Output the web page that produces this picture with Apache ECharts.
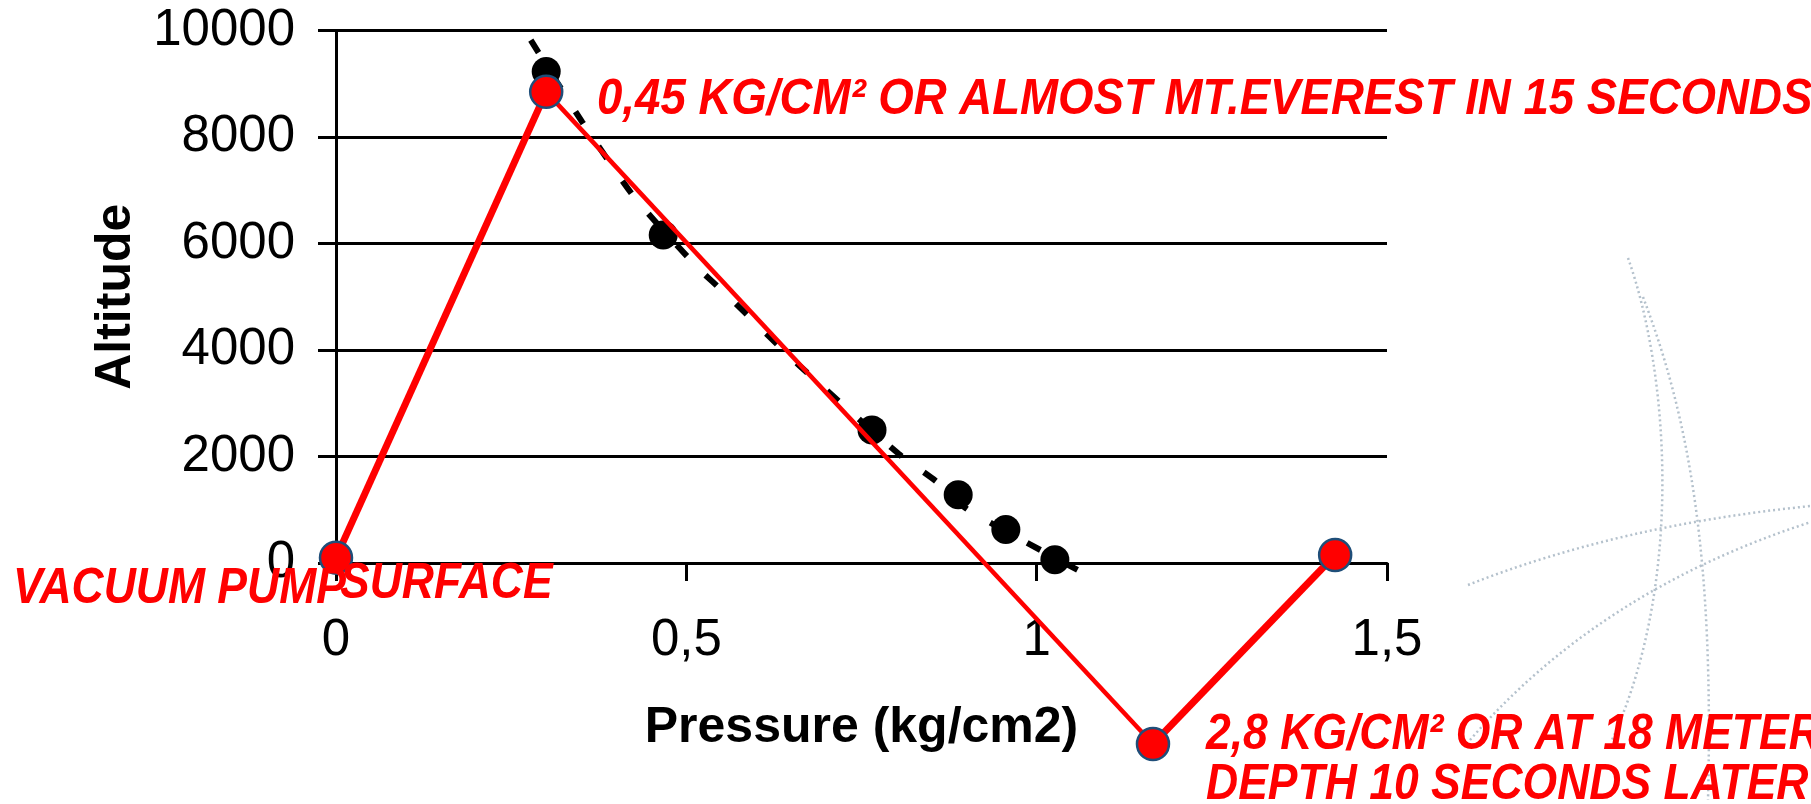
<!DOCTYPE html>
<html>
<head>
<meta charset="utf-8">
<script src="https://cdn.jsdelivr.net/npm/echarts@6.0.0/dist/echarts.min.js"></script>
<style>
  html, body { margin: 0; padding: 0; background: #fff; }
  #chart { width: 1811px; height: 804px; }
</style>
</head>
<body>
<div id="chart"></div>
<script>
// chamber run: pressure (kg/cm2) vs altitude (m)
const redPressure = [0, 0.30, 1.166, 1.426];
const redAltitude = [100, 8848, -3400, 150];

// standard atmosphere points
const obsPressure = [0.30, 0.467, 0.765, 0.888, 0.956, 1.026];
const obsAltitude = [9230, 6160, 2500, 1280, 630, 60];

// trend line, read along the dashes
const trendPressure = [0.278, 0.351, 0.427, 0.516, 0.558, 0.662, 0.803, 0.857, 0.902, 1.077];
const trendAltitude = [9820, 8290, 6850, 5550, 5030, 3700, 2050, 1530, 1000, -260];

const xTicks = [0, 0.5, 1, 1.5];
const yTicks = [0, 2000, 4000, 6000, 8000, 10000];

const notes = [
  '0,45 KG/CM² OR ALMOST MT.EVEREST IN 15 SECONDS',
  'VACUUM PUMP',
  'SURFACE',
  '2,8 KG/CM² OR AT 18 METERS',
  'DEPTH 10 SECONDS LATER'
];

const pairs = (xs, ys) => xs.map((x, i) => [x, ys[i]]);
const red = pairs(redPressure, redAltitude);

const chart = echarts.init(document.getElementById('chart'));

const noteFont = {
  fontSize: 50,
  fontWeight: 'bold',
  fontStyle: 'italic',
  fontFamily: '"Liberation Sans", Arial, sans-serif',
  fill: '#ff0000',
  align: 'left',
  verticalAlign: 'middle'
};
const note = (txt, x, y, sx) => ({
  type: 'text', x: x, y: y, scaleX: sx || 0.89, z: 100,
  style: Object.assign({ text: txt }, noteFont)
});
const dots = { stroke: '#b4c1cc', lineWidth: 2.5, lineDash: [2, 3], fill: null };

const axisFont = { fontSize: 51, color: '#000', fontFamily: '"Liberation Sans", Arial, sans-serif' };
const titleFont = { fontSize: 50, fontWeight: 'bold', color: '#000', fontFamily: '"Liberation Sans", Arial, sans-serif' };
const blackLine = { color: '#000', width: 3 };

chart.setOption({
  backgroundColor: '#fff',
  animation: false,
  grid: { left: 336, right: 424, top: 30.5, bottom: 241 },
  xAxis: {
    type: 'value',
    min: xTicks[0],
    max: xTicks[xTicks.length - 1],
    interval: 0.5,
    name: 'Pressure (kg/cm2)',
    nameLocation: 'middle',
    nameGap: 140,
    nameTextStyle: titleFont,
    axisLine: { show: true, lineStyle: blackLine },
    axisTick: { show: true, length: 18, lineStyle: blackLine },
    axisLabel: Object.assign({}, axisFont, {
      margin: 52, showMinLabel: true, showMaxLabel: true,
      formatter: v => String(v).replace('.', ',')
    }),
    splitLine: { show: false }
  },
  yAxis: {
    type: 'value',
    min: yTicks[0],
    max: yTicks[yTicks.length - 1],
    interval: 2000,
    name: 'Altitude',
    nameLocation: 'middle',
    nameRotate: 90,
    nameGap: 195,
    nameTextStyle: titleFont,
    axisLine: { show: true, lineStyle: blackLine },
    axisTick: { show: true, length: 18, lineStyle: blackLine },
    axisLabel: Object.assign({}, axisFont, {
      margin: 41, showMinLabel: true, showMaxLabel: true,
      formatter: v => String(v)
    }),
    splitLine: { show: true, lineStyle: blackLine }
  },
  series: [
    {
      name: 'trend',
      type: 'line',
      data: pairs(trendPressure, trendAltitude),
      smooth: 0.2,
      showSymbol: false,
      clip: false,
      z: 2,
      lineStyle: { color: '#000', width: 6, type: [15, 27] }
    },
    {
      name: 'atmosphere',
      type: 'scatter',
      data: pairs(obsPressure, obsAltitude),
      symbolSize: 29,
      clip: false,
      z: 3,
      itemStyle: { color: '#000', opacity: 1 }
    },
    {
      name: 'climb',
      type: 'line',
      data: [red[0], red[1]],
      showSymbol: false,
      clip: false,
      z: 4,
      lineStyle: { color: '#ff0000', width: 7 }
    },
    {
      name: 'dive',
      type: 'line',
      data: [red[1], red[2]],
      showSymbol: false,
      clip: false,
      z: 4,
      lineStyle: { color: '#ff0000', width: 4.5 }
    },
    {
      name: 'surface',
      type: 'line',
      data: [red[2], red[3]],
      showSymbol: false,
      clip: false,
      z: 4,
      lineStyle: { color: '#ff0000', width: 7 }
    },
    {
      name: 'stops',
      type: 'scatter',
      data: red,
      symbolSize: 32,
      clip: false,
      z: 5,
      itemStyle: { color: '#ff0000', opacity: 1, borderColor: '#1f4e79', borderWidth: 2.5 }
    }
  ],
  graphic: [
    { type: 'bezierCurve', z: -10, shape: { x1: 1628, y1: 258, cpx1: 1668, cpy1: 370, cpx2: 1685, cpy2: 580, x2: 1612, y2: 740 }, style: dots },
    { type: 'bezierCurve', z: -10, shape: { x1: 1643, y1: 297, cpx1: 1690, cpy1: 420, cpx2: 1714, cpy2: 560, x2: 1708, y2: 800 }, style: dots },
    { type: 'bezierCurve', z: -10, shape: { x1: 1468, y1: 585, cpx1: 1620, cpy1: 525, x2: 1811, y2: 506 }, style: dots },
    { type: 'bezierCurve', z: -10, shape: { x1: 1470, y1: 740, cpx1: 1600, cpy1: 590, x2: 1811, y2: 522 }, style: dots },
    note(notes[0], 597, 100, 0.912),
    note(notes[1], 13, 589),
    note(notes[2], 340, 584),
    note(notes[3], 1206, 735),
    note(notes[4], 1206, 785)
  ]
});
</script>
</body>
</html>
